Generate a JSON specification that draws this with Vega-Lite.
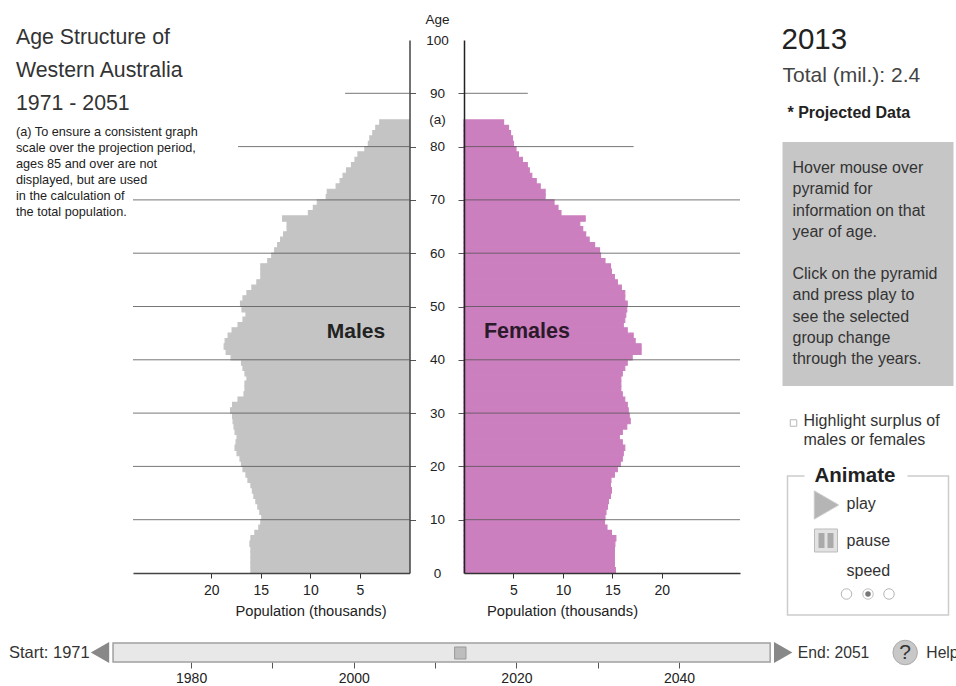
{
"$schema":"https://vega.github.io/schema/vega-lite/v6.json",
"padding":{"left":0,"top":12,"right":0,"bottom":0},
"background":"white",
"config":{"view":{"stroke":null},"font":"Liberation Sans","text":{"font":"Liberation Sans","color":"#222","align":"left","baseline":"middle"},"axis":{"labelFont":"Liberation Sans","titleFont":"Liberation Sans","labelColor":"#222","titleColor":"#222","grid":false}},
"datasets":{"pop":[
{"age":0,"top":1,"male":16.0,"female":15.3},{"age":1,"top":2,"male":16.0,"female":15.2},{"age":2,"top":3,"male":16.0,"female":15.2},{"age":3,"top":4,"male":16.0,"female":15.2},{"age":4,"top":5,"male":16.0,"female":15.2},{"age":5,"top":6,"male":16.1,"female":15.25},{"age":6,"top":7,"male":16.0,"female":15.35},{"age":7,"top":8,"male":15.6,"female":14.9},{"age":8,"top":9,"male":15.2,"female":14.45},{"age":9,"top":10,"male":15.0,"female":14.2},
{"age":10,"top":11,"male":14.9,"female":14.25},{"age":11,"top":12,"male":15.1,"female":14.35},{"age":12,"top":13,"male":15.3,"female":14.5},{"age":13,"top":14,"male":15.5,"female":14.6},{"age":14,"top":15,"male":15.7,"female":14.8},{"age":15,"top":16,"male":15.85,"female":14.9},{"age":16,"top":17,"male":16.0,"female":14.8},{"age":17,"top":18,"male":16.3,"female":14.85},{"age":18,"top":19,"male":16.5,"female":15.2},{"age":19,"top":20,"male":16.8,"female":15.5},
{"age":20,"top":21,"male":16.95,"female":15.8},{"age":21,"top":22,"male":17.1,"female":16.0},{"age":22,"top":23,"male":17.4,"female":16.1},{"age":23,"top":24,"male":17.6,"female":16.25},{"age":24,"top":25,"male":17.5,"female":16.0},{"age":25,"top":26,"male":17.4,"female":15.7},{"age":26,"top":27,"male":17.6,"female":16.0},{"age":27,"top":28,"male":17.7,"female":16.45},{"age":28,"top":29,"male":17.8,"female":16.8},{"age":29,"top":30,"male":17.85,"female":16.7},
{"age":30,"top":31,"male":18.05,"female":16.6},{"age":31,"top":32,"male":17.85,"female":16.5},{"age":32,"top":33,"male":17.3,"female":16.25},{"age":33,"top":34,"male":16.7,"female":16.0},{"age":34,"top":35,"male":16.6,"female":15.85},{"age":35,"top":36,"male":16.6,"female":15.85},{"age":36,"top":37,"male":16.4,"female":15.85},{"age":37,"top":38,"male":16.6,"female":16.0},{"age":38,"top":39,"male":16.8,"female":16.25},{"age":39,"top":40,"male":16.95,"female":16.5},
{"age":40,"top":41,"male":18.0,"female":17.0},{"age":41,"top":42,"male":18.5,"female":17.9},{"age":42,"top":43,"male":18.7,"female":17.9},{"age":43,"top":44,"male":18.6,"female":17.3},{"age":44,"top":45,"male":18.3,"female":17.1},{"age":45,"top":46,"male":17.9,"female":16.5},{"age":46,"top":47,"male":17.3,"female":16.1},{"age":47,"top":48,"male":16.8,"female":16.25},{"age":48,"top":49,"male":16.5,"female":16.35},{"age":49,"top":50,"male":16.9,"female":16.45},
{"age":50,"top":51,"male":17.05,"female":16.5},{"age":51,"top":52,"male":16.8,"female":16.25},{"age":52,"top":53,"male":16.4,"female":16.25},{"age":53,"top":54,"male":15.9,"female":15.9},{"age":54,"top":55,"male":15.4,"female":15.5},{"age":55,"top":56,"male":15.0,"female":15.2},{"age":56,"top":57,"male":15.0,"female":14.9},{"age":57,"top":58,"male":15.0,"female":14.8},{"age":58,"top":59,"male":14.3,"female":14.25},{"age":59,"top":60,"male":13.9,"female":13.8},
{"age":60,"top":61,"male":13.6,"female":13.7},{"age":61,"top":62,"male":13.3,"female":13.2},{"age":62,"top":63,"male":13.0,"female":12.65},{"age":63,"top":64,"male":12.7,"female":12.3},{"age":64,"top":65,"male":12.35,"female":12.0},{"age":65,"top":66,"male":12.35,"female":11.7},{"age":66,"top":67,"male":12.8,"female":12.25},{"age":67,"top":68,"male":10.2,"female":9.8},{"age":68,"top":69,"male":9.7,"female":9.5},{"age":69,"top":70,"male":9.3,"female":9.1},
{"age":70,"top":71,"male":8.4,"female":8.2},{"age":71,"top":72,"male":8.3,"female":8.2},{"age":72,"top":73,"male":7.4,"female":7.7},{"age":73,"top":74,"male":7.0,"female":7.3},{"age":74,"top":75,"male":6.7,"female":6.85},{"age":75,"top":76,"male":6.35,"female":6.6},{"age":76,"top":77,"male":5.85,"female":6.4},{"age":77,"top":78,"male":5.5,"female":5.9},{"age":78,"top":79,"male":5.2,"female":5.5},{"age":79,"top":80,"male":4.5,"female":5.25},
{"age":80,"top":81,"male":4.15,"female":5.0},{"age":81,"top":82,"male":4.0,"female":4.9},{"age":82,"top":83,"male":3.7,"female":4.7},{"age":83,"top":84,"male":3.4,"female":4.5},{"age":84,"top":85,"male":3.0,"female":4.0}
],
"maleRules":[{"age":10,"ext":27.9},{"age":20,"ext":27.9},{"age":30,"ext":27.9},{"age":40,"ext":27.9},{"age":50,"ext":27.9},{"age":60,"ext":27.9},{"age":70,"ext":27.9},{"age":80,"ext":17.3},{"age":90,"ext":6.5}],
"femaleRules":[{"age":10,"ext":27.9},{"age":20,"ext":27.9},{"age":30,"ext":27.9},{"age":40,"ext":27.9},{"age":50,"ext":27.9},{"age":60,"ext":27.9},{"age":70,"ext":27.9},{"age":80,"ext":17.15},{"age":90,"ext":6.45}],
"one":[{}],
"slider":[{"start":1970.4,"end":2051.2}]
},
"bounds":"flush",
"spacing":603,
"vconcat":[
{"bounds":"flush","spacing":0,"hconcat":[
{"width":132.5,"height":533,"data":{"name":"one"},"layer":[
{"mark":{"type":"text","text":"Age Structure of","fontSize":21.3,"color":"#333"},"encoding":{"x":{"datum":16,"scale":{"domain":[0,132.5],"nice":false,"zero":false},"axis":null},"y":{"datum":38,"scale":{"domain":[573,40],"nice":false,"zero":false},"axis":null}}},
{"mark":{"type":"text","text":"Western Australia","fontSize":21.3,"color":"#333"},"encoding":{"x":{"datum":16,"axis":null},"y":{"datum":71,"axis":null}}},
{"mark":{"type":"text","text":"1971 - 2051","fontSize":21.3,"color":"#333"},"encoding":{"x":{"datum":16,"axis":null},"y":{"datum":104,"axis":null}}},
{"mark":{"type":"text","text":"(a) To ensure a consistent graph","fontSize":12.7},"encoding":{"x":{"datum":16,"axis":null},"y":{"datum":132,"axis":null}}},
{"mark":{"type":"text","text":"scale over the projection period,","fontSize":12.7},"encoding":{"x":{"datum":16,"axis":null},"y":{"datum":148,"axis":null}}},
{"mark":{"type":"text","text":"ages 85 and over are not","fontSize":12.7},"encoding":{"x":{"datum":16,"axis":null},"y":{"datum":164,"axis":null}}},
{"mark":{"type":"text","text":"displayed, but are used","fontSize":12.7},"encoding":{"x":{"datum":16,"axis":null},"y":{"datum":180,"axis":null}}},
{"mark":{"type":"text","text":"in the calculation of","fontSize":12.7},"encoding":{"x":{"datum":16,"axis":null},"y":{"datum":196,"axis":null}}},
{"mark":{"type":"text","text":"the total population.","fontSize":12.7},"encoding":{"x":{"datum":16,"axis":null},"y":{"datum":212,"axis":null}}}
]},
{"width":276.5,"height":533,"layer":[
{"data":{"name":"pop"},"mark":{"type":"rect","color":"#c4c4c4","stroke":"#c4c4c4","strokeWidth":1.2},"encoding":{
"x":{"field":"male","type":"quantitative","scale":{"domain":[0,27.9],"reverse":true,"nice":false},"axis":{"values":[5,10,15,20],"title":"Population (thousands)","titleFontWeight":"normal","titleFontSize":14.7,"labelFontSize":14,"tickSize":5,"labelPadding":5,"tickColor":"#333","domainColor":"#444","domainWidth":1.5,"titleX":177.5,"titleY":38,"titleBaseline":"middle","labelFlush":false,"zindex":1}},
"x2":{"datum":0},
"y":{"field":"age","type":"quantitative","scale":{"domain":[0,100],"nice":false},"axis":{"orient":"right","values":[10,20,30,40,50,60,70,80,90],"labels":false,"title":null,"tickSize":6,"tickColor":"#555","domainColor":"#444","domainWidth":1.5,"zindex":1}},
"y2":{"field":"top"}}},
{"data":{"name":"maleRules"},"mark":{"type":"rule","color":"#555","strokeWidth":1,"opacity":0.8},"encoding":{"x":{"field":"ext","type":"quantitative"},"x2":{"datum":0},"y":{"field":"age","type":"quantitative"}}},
{"data":{"name":"one"},"mark":{"type":"text","text":"Males","fontSize":21,"fontWeight":"bold","align":"center","color":"#222"},"encoding":{"x":{"datum":5.4},"y":{"datum":45.2}}}
]},
{"width":53.5,"height":533,"data":{"name":"one"},"mark":{"type":"text","text":" "}},
{"width":276,"height":533,"layer":[
{"data":{"name":"pop"},"mark":{"type":"rect","color":"#cc7fbe","stroke":"#cc7fbe","strokeWidth":1.2},"encoding":{
"x":{"field":"female","type":"quantitative","scale":{"domain":[0,27.9],"nice":false},"axis":{"values":[5,10,15,20],"title":"Population (thousands)","titleFontWeight":"normal","titleFontSize":14.7,"labelFontSize":14,"tickSize":5,"labelPadding":5,"tickColor":"#333","domainColor":"#333","domainWidth":1.5,"titleX":98,"titleY":38,"titleBaseline":"middle","labelFlush":false,"zindex":1}},
"x2":{"datum":0},
"y":{"field":"age","type":"quantitative","scale":{"domain":[0,100],"nice":false},"axis":{"orient":"left","values":[0,10,20,30,40,50,60,70,80,85,90,100],"labelExpr":"datum.value==85?'(a)':datum.label","labelAlign":"center","labelBaseline":"middle","labelFontSize":13.5,"labelPadding":21,"labelOverlap":false,"labelBound":false,"labelFlush":false,"tickSize":6,"tickColor":"#555","tickOpacity":{"condition":{"test":"datum.value==85||datum.value==0||datum.value==100","value":0},"value":1},"domainColor":"#222","domainWidth":1.5,"title":"Age","titleAngle":0,"titleFontWeight":"normal","titleFontSize":13.5,"titleX":-27,"titleY":-21,"titleAlign":"center","titleBaseline":"middle","zindex":1}},
"y2":{"field":"top"}}},
{"data":{"name":"femaleRules"},"mark":{"type":"rule","color":"#555","strokeWidth":1,"opacity":0.8},"encoding":{"x":{"field":"ext","type":"quantitative"},"x2":{"datum":0},"y":{"field":"age","type":"quantitative"}}},
{"data":{"name":"one"},"mark":{"type":"text","text":"Females","fontSize":21.5,"fontWeight":"bold","align":"center","color":"#2a1a2a"},"encoding":{"x":{"datum":6.36},"y":{"datum":45.2}}}
]},
{"width":217.5,"height":533,"data":{"name":"one"},"layer":[
{"mark":{"type":"text","text":"2013","fontSize":29.5,"color":"#222"},"encoding":{"x":{"datum":780,"scale":{"domain":[738.5,956],"nice":false,"zero":false},"axis":null},"y":{"datum":40,"scale":{"domain":[573,40],"nice":false,"zero":false},"axis":null}}},
{"mark":{"type":"text","text":"Total (mil.): 2.4","fontSize":21,"color":"#444"},"encoding":{"x":{"datum":781,"axis":null},"y":{"datum":76,"axis":null}}},
{"mark":{"type":"text","text":"* Projected Data","fontSize":16,"fontWeight":"bold","color":"#222"},"encoding":{"x":{"datum":786,"axis":null},"y":{"datum":113,"axis":null}}},
{"mark":{"type":"rect","color":"#c6c6c6"},"encoding":{"x":{"datum":781,"axis":null},"x2":{"datum":952},"y":{"datum":142,"axis":null},"y2":{"datum":386}}},
{"mark":{"type":"text","text":["Hover mouse over","pyramid for","information on that","year of age."],"fontSize":16,"lineHeight":21.3,"baseline":"top","color":"#333"},"encoding":{"x":{"datum":791,"axis":null},"y":{"datum":160,"axis":null}}},
{"mark":{"type":"text","text":["Click on the pyramid","and press play to","see the selected","group change","through the years."],"fontSize":16,"lineHeight":21.3,"baseline":"top","color":"#333"},"encoding":{"x":{"datum":791,"axis":null},"y":{"datum":266,"axis":null}}},
{"mark":{"type":"point","shape":"square","size":42,"filled":false,"color":"#999","strokeWidth":1},"encoding":{"x":{"datum":792,"axis":null},"y":{"datum":423,"axis":null}}},
{"mark":{"type":"text","text":"Highlight surplus of","fontSize":16,"color":"#333"},"encoding":{"x":{"datum":802,"axis":null},"y":{"datum":421,"axis":null}}},
{"mark":{"type":"text","text":"males or females","fontSize":16,"color":"#333"},"encoding":{"x":{"datum":802,"axis":null},"y":{"datum":440,"axis":null}}},
{"mark":{"type":"rect","fill":"white","stroke":"#ccc","strokeWidth":1.5},"encoding":{"x":{"datum":786,"axis":null},"x2":{"datum":947},"y":{"datum":476,"axis":null},"y2":{"datum":615}}},
{"mark":{"type":"rect","fill":"white"},"encoding":{"x":{"datum":803,"axis":null},"x2":{"datum":906},"y":{"datum":470,"axis":null},"y2":{"datum":482}}},
{"mark":{"type":"text","text":"Animate","fontSize":20.5,"fontWeight":"bold","color":"#222"},"encoding":{"x":{"datum":813,"axis":null},"y":{"datum":476,"axis":null}}},
{"mark":{"type":"point","shape":"triangle-right","size":800,"filled":true,"color":"#b5b5b5","stroke":"#ccc","strokeWidth":1,"opacity":1},"encoding":{"x":{"datum":825,"axis":null},"y":{"datum":505,"axis":null}}},
{"mark":{"type":"text","text":"play","fontSize":16,"color":"#333"},"encoding":{"x":{"datum":845,"axis":null},"y":{"datum":504,"axis":null}}},
{"mark":{"type":"rect","fill":"#e2e2e2","stroke":"#bbb","strokeWidth":1},"encoding":{"x":{"datum":813,"axis":null},"x2":{"datum":836},"y":{"datum":529,"axis":null},"y2":{"datum":552}}},
{"mark":{"type":"rect","fill":"#aaa"},"encoding":{"x":{"datum":817,"axis":null},"x2":{"datum":823},"y":{"datum":533,"axis":null},"y2":{"datum":548}}},
{"mark":{"type":"rect","fill":"#aaa"},"encoding":{"x":{"datum":826,"axis":null},"x2":{"datum":832},"y":{"datum":533,"axis":null},"y2":{"datum":548}}},
{"mark":{"type":"text","text":"pause","fontSize":16,"color":"#333"},"encoding":{"x":{"datum":845,"axis":null},"y":{"datum":541,"axis":null}}},
{"mark":{"type":"text","text":"speed","fontSize":16,"color":"#333"},"encoding":{"x":{"datum":845,"axis":null},"y":{"datum":571,"axis":null}}},
{"mark":{"type":"point","shape":"circle","size":110,"filled":false,"color":"#999","strokeWidth":1},"encoding":{"x":{"datum":845,"axis":null},"y":{"datum":594,"axis":null}}},
{"mark":{"type":"point","shape":"circle","size":110,"filled":false,"color":"#aaa","strokeWidth":1},"encoding":{"x":{"datum":866.5,"axis":null},"y":{"datum":594,"axis":null}}},
{"mark":{"type":"point","shape":"circle","size":30,"filled":true,"color":"#777","opacity":1},"encoding":{"x":{"datum":866.5,"axis":null},"y":{"datum":594,"axis":null}}},
{"mark":{"type":"point","shape":"circle","size":110,"filled":false,"color":"#999","strokeWidth":1},"encoding":{"x":{"datum":887.5,"axis":null},"y":{"datum":594,"axis":null}}}
]}
]},
{"width":956,"height":19,"layer":[
{"data":{"name":"slider"},"mark":{"type":"rect","fill":"#e8e8e8","stroke":"#a0a0a0","strokeWidth":1.5},"encoding":{
"x":{"field":"start","type":"quantitative","scale":{"domain":[1956.5,2074.05],"nice":false,"zero":false},"axis":{"values":[1980,1990,2000,2010,2020,2030,2040],"labelExpr":"datum.value%20==0?format(datum.value,'d'):''","title":null,"domain":false,"tickSize":6,"tickColor":"#555","labelFontSize":14,"labelPadding":3,"labelFlush":false,"labelOverlap":false}},
"x2":{"field":"end"}}},
{"data":{"name":"one"},"mark":{"type":"rect","fill":"#bdbdbd","stroke":"#999","strokeWidth":1,"y":4,"y2":16},"encoding":{"x":{"datum":2012.4},"x2":{"datum":2013.8}}},
{"data":{"name":"one"},"mark":{"type":"text","text":"Start: 1971","fontSize":16.5,"color":"#333"},"encoding":{"x":{"datum":1957.6}}},
{"data":{"name":"one"},"mark":{"type":"point","shape":"triangle-left","size":450,"filled":true,"color":"#888","opacity":1},"encoding":{"x":{"datum":1968.8}}},
{"data":{"name":"one"},"mark":{"type":"point","shape":"triangle-right","size":450,"filled":true,"color":"#888","opacity":1},"encoding":{"x":{"datum":2052.8}}},
{"data":{"name":"one"},"mark":{"type":"text","text":"End: 2051","fontSize":15.7,"color":"#333"},"encoding":{"x":{"datum":2054.6}}},
{"data":{"name":"one"},"mark":{"type":"point","shape":"circle","size":600,"filled":true,"color":"#c8c8c8","stroke":"#aaa","strokeWidth":1,"opacity":1},"encoding":{"x":{"datum":2067.8}}},
{"data":{"name":"one"},"mark":{"type":"text","text":"?","fontSize":21,"align":"center","color":"#333"},"encoding":{"x":{"datum":2067.8}}},
{"data":{"name":"one"},"mark":{"type":"text","text":"Help","fontSize":15.7,"color":"#333"},"encoding":{"x":{"datum":2070.4}}}
]}
]
}
